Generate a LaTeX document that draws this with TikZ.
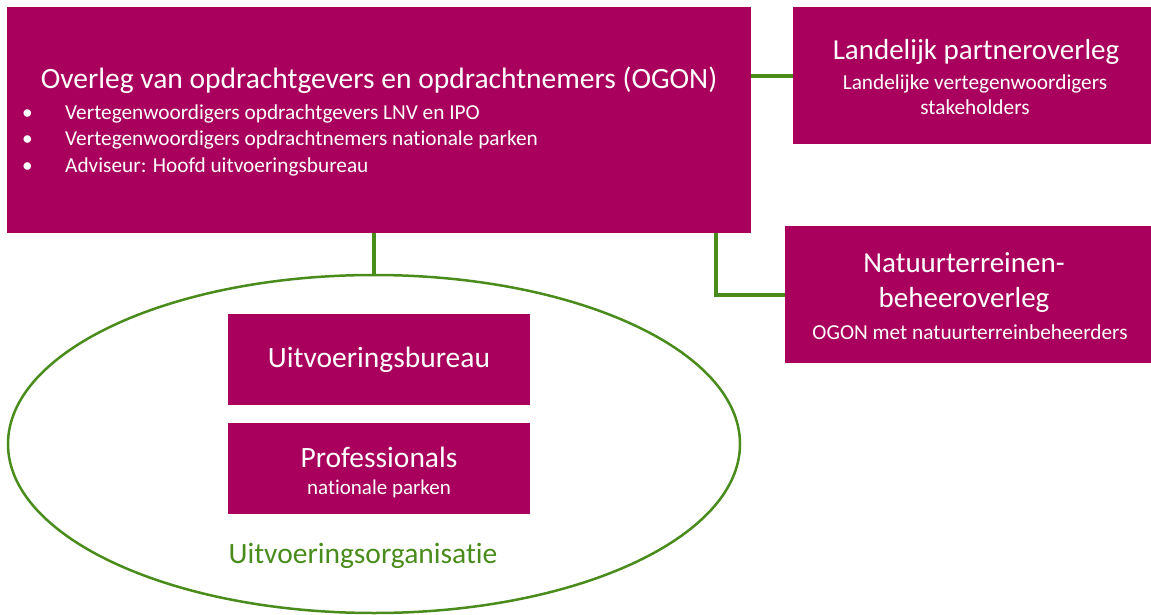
\documentclass[tikz,border=0pt]{standalone}
\usepackage{fontspec}
\setmainfont{Carlito}[Ligatures=NoCommon]
\usetikzlibrary{shapes.geometric}
\definecolor{plum}{RGB}{168,0,92}
\definecolor{leaf}{RGB}{74,140,28}
\tikzset{
  box/.style={fill=plum, draw=none, inner sep=0pt, anchor=north west},
  txt/.style={text=white, align=center, inner sep=0pt},
  conn/.style={draw=leaf, line width=4pt},
}
\begin{document}
\begin{tikzpicture}[x=1pt,y=-1pt]
\useasboundingbox (0,0) rectangle (1151,615);
% boxes
\node[box, minimum width=744pt, minimum height=226pt] (ogon) at (7,7) {};
\node[box, minimum width=358pt, minimum height=137pt] (lp) at (793,7) {};
\node[box, minimum width=366pt, minimum height=137pt] (nt) at (785,226) {};
\node[ellipse, draw=leaf, line width=2.5pt, minimum width=732pt, minimum height=338pt, inner sep=0pt] (ell) at (374,444) {};
\node[box, minimum width=302pt, minimum height=91pt] (ub) at (228,314) {};
\node[box, minimum width=302pt, minimum height=91pt] (pro) at (228,423) {};
% texts
\node[txt, font=\fontsize{29.5}{34}\selectfont] (ogont) at (379,80) {Overleg van opdrachtgevers en opdrachtnemers (OGON)};
\node[txt, anchor=west, font=\fontsize{21.3}{26.5}\selectfont, align=left] (ogonb) at (22,140) {%
  \makebox[43pt][l]{\textbullet}Vertegenwoordigers opdrachtgevers LNV en IPO\\
  \makebox[43pt][l]{\textbullet}Vertegenwoordigers opdrachtnemers nationale parken\\
  \makebox[43pt][l]{\textbullet}Adviseur: Hoofd uitvoeringsbureau};
\node[txt, font=\fontsize{29}{32}\selectfont] (lpt) at (976,52) {Landelijk partneroverleg};
\node[txt, font=\fontsize{21.3}{25}\selectfont] (lps) at (975,95) {Landelijke vertegenwoordigers\\stakeholders};
\node[txt, font=\fontsize{29}{35}\selectfont] (ntt) at (964,283) {Natuurterreinen-\\beheeroverleg};
\node[txt, font=\fontsize{21.3}{25}\selectfont] (nts) at (970,332) {OGON met natuurterreinbeheerders};
\node[txt, font=\fontsize{29.5}{32}\selectfont] (ubt) at (379,360) {Uitvoeringsbureau};
\node[txt, font=\fontsize{29.5}{32}\selectfont] (prot) at (379,457) {Professionals};
\node[txt, font=\fontsize{21}{24}\selectfont] (pros) at (379,489) {nationale parken};
\node[text=leaf, inner sep=0pt, font=\fontsize{29.5}{32}\selectfont] (org) at (363,556) {Uitvoeringsorganisatie};
% connectors
\draw[conn] (ogon.east |- lp.west) -- (lp.west);
\coordinate (nb) at (716,233);
\draw[conn] (nb) |- (nt.west);
\draw[conn] (ell.north |- ogon.south) -- (ell.north);
\end{tikzpicture}
\end{document}
